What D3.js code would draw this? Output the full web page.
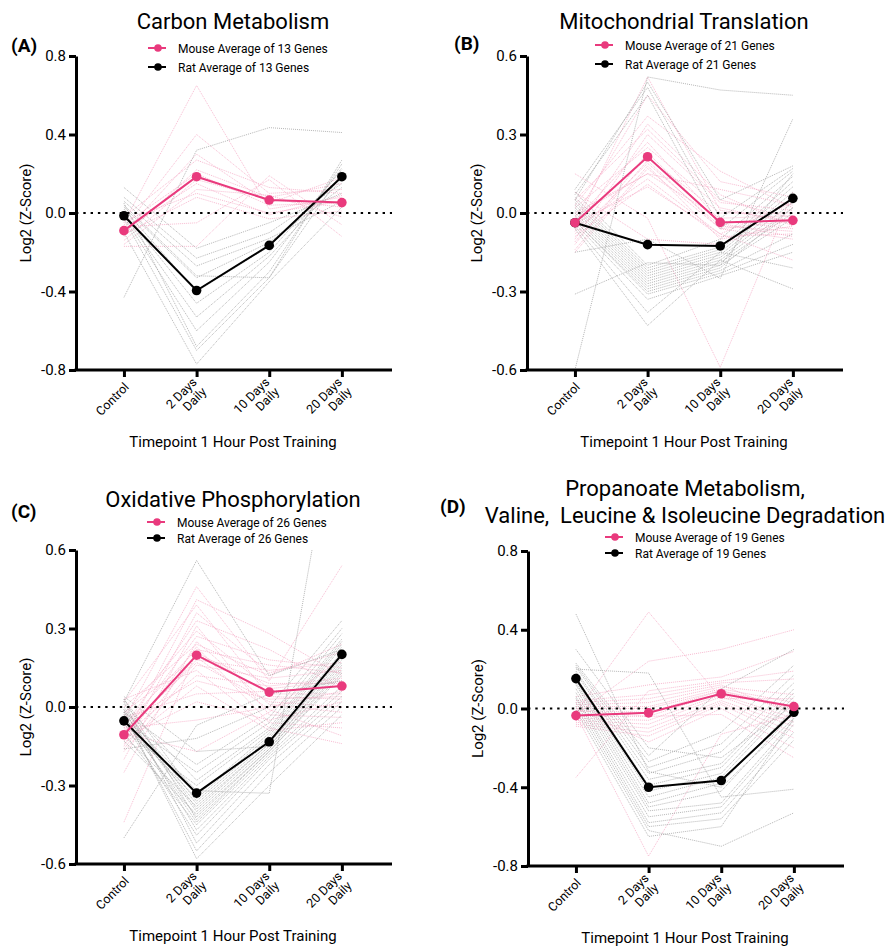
<!DOCTYPE html>
<html>
<head>
<meta charset="utf-8">
<script src="https://cdn.jsdelivr.net/npm/d3@7"></script>
<style>
  body { margin: 0; background: #fff; }
  svg { font-family: Roboto, "Noto Sans", sans-serif; }
  text { white-space: pre; }
</style>
</head>
<body>
<svg id="chart" width="896" height="948"></svg>
<script>
// x categories (multi-line labels)
const timepoints = [["Control"], ["2 Days", "Daily"], ["10 Days", "Daily"], ["20 Days", "Daily"]];

// ---- (A) Carbon Metabolism
const titleA = ["Carbon Metabolism"];
const ticksA = [-0.8, -0.4, 0, 0.4, 0.8];
const mouseAvgA = [-0.09, 0.185, 0.066, 0.053];
const ratAvgA = [-0.014, -0.395, -0.165, 0.185];
const mouseGenesA = [
  [-0.05, 0.65, 0.02, 0.08], [-0.08, 0.40, 0.10, 0.12], [-0.10, 0.30, 0.05, 0.18],
  [-0.02, 0.27, 0.13, 0.10], [-0.12, 0.22, 0.08, 0.15], [-0.06, 0.20, 0.04, 0.05],
  [-0.14, 0.17, 0.07, 0.03], [-0.09, 0.15, -0.01, 0.09], [-0.16, 0.12, 0.09, -0.02],
  [-0.04, 0.10, 0.00, 0.06], [-0.11, 0.08, -0.03, 0.01], [-0.17, -0.17, 0.19, -0.06],
  [-0.07, -0.05, 0.17, -0.12]
];
const ratGenesA = [
  [-0.43, 0.32, 0.435, 0.41], [0.13, -0.18, -0.05, 0.10], [0.08, -0.23, -0.10, 0.15],
  [0.06, -0.27, -0.13, 0.06], [0.04, -0.32, -0.33, 0.20], [0.03, -0.33, -0.15, 0.13],
  [0.02, -0.40, -0.17, 0.19], [0.00, -0.46, -0.20, 0.22], [-0.01, -0.53, -0.22, 0.17],
  [-0.02, -0.60, -0.25, 0.23], [0.05, -0.68, -0.30, 0.25], [-0.03, -0.70, -0.33, 0.27],
  [-0.10, -0.77, -0.35, 0.03]
];

// ---- (B) Mitochondrial Translation
const titleB = ["Mitochondrial Translation"];
const ticksB = [-0.6, -0.3, 0, 0.3, 0.6];
const mouseAvgB = [-0.037, 0.215, -0.036, -0.028];
const ratAvgB = [-0.037, -0.121, -0.126, 0.056];
const mouseGenesB = [
  [-0.05, 0.52, 0.01, -0.03], [-0.02, 0.45, 0.12, 0.06], [0.03, 0.37, 0.16, 0.02],
  [-0.07, 0.34, 0.07, -0.05], [0.05, 0.32, 0.05, -0.02], [-0.10, 0.30, 0.04, 0.01],
  [-0.03, 0.27, -0.03, -0.06], [0.02, 0.25, 0.02, -0.04], [-0.12, 0.23, -0.04, -0.09],
  [-0.04, 0.21, 0.00, 0.00], [-0.08, 0.19, -0.05, -0.07], [-0.15, 0.17, -0.06, -0.10],
  [0.00, 0.15, -0.02, -0.01], [-0.06, 0.13, -0.08, -0.18], [-0.09, 0.11, -0.09, -0.08],
  [-0.11, 0.20, -0.06, -0.03], [-0.14, 0.18, -0.10, -0.05], [-0.01, 0.15, 0.09, 0.03],
  [-0.04, 0.10, -0.08, 0.04], [0.15, -0.02, -0.59, 0.08], [0.08, -0.10, -0.12, -0.02]
];
const ratGenesB = [
  [-0.60, 0.52, 0.47, 0.45], [0.05, 0.50, 0.05, 0.18], [0.09, 0.48, -0.02, 0.17],
  [0.07, 0.45, -0.06, 0.16], [-0.15, -0.10, -0.25, 0.36], [-0.31, -0.19, -0.20, 0.15],
  [0.08, -0.20, -0.10, 0.14], [0.06, -0.21, -0.13, 0.12], [0.05, -0.22, -0.14, 0.10],
  [0.04, -0.23, -0.15, 0.08], [0.03, -0.24, -0.16, 0.06], [0.02, -0.25, -0.17, 0.04],
  [0.01, -0.26, -0.18, 0.02], [0.00, -0.27, -0.19, 0.00], [-0.01, -0.28, -0.20, -0.02],
  [-0.02, -0.29, -0.21, 0.02], [-0.03, -0.30, -0.22, -0.08], [-0.03, -0.31, -0.23, -0.12],
  [-0.04, -0.33, -0.24, -0.15], [-0.05, -0.38, -0.15, -0.21], [-0.06, -0.43, -0.18, -0.29]
];

// ---- (C) Oxidative Phosphorylation
const titleC = ["Oxidative Phosphorylation"];
const ticksC = [-0.6, -0.3, 0, 0.3, 0.6];
const mouseAvgC = [-0.106, 0.198, 0.057, 0.080];
const ratAvgC = [-0.053, -0.329, -0.133, 0.201];
const mouseGenesC = [
  [-0.05, 0.46, 0.10, 0.54], [-0.12, 0.41, 0.28, 0.12], [0.02, 0.39, 0.04, 0.03],
  [-0.15, 0.36, 0.13, 0.21], [-0.08, 0.33, 0.22, 0.07], [-0.20, 0.31, -0.03, -0.04],
  [-0.03, 0.29, 0.07, 0.10], [-0.10, 0.27, 0.18, 0.15], [-0.25, 0.25, 0.01, -0.02],
  [0.00, 0.24, 0.12, 0.24], [-0.13, 0.23, -0.06, -0.08], [-0.07, 0.22, 0.16, 0.13],
  [-0.44, 0.21, 0.05, 0.05], [-0.16, 0.20, 0.09, 0.09], [-0.02, 0.19, -0.01, -0.11],
  [-0.10, 0.18, 0.14, 0.17], [-0.09, 0.17, 0.02, 0.00], [-0.17, 0.16, 0.11, 0.14],
  [0.03, 0.14, -0.08, -0.14], [-0.11, 0.12, 0.08, 0.11], [-0.06, 0.10, 0.03, 0.04],
  [-0.14, 0.08, -0.09, -0.06], [-0.04, 0.05, 0.06, 0.08], [-0.12, 0.02, -0.05, 0.02],
  [-0.08, -0.05, 0.00, 0.06], [-0.10, -0.17, -0.02, 0.19]
];
const ratGenesC = [
  [0.02, 0.56, 0.12, 0.22], [-0.50, -0.07, 0.05, 0.10], [-0.16, -0.12, 0.00, 0.33],
  [0.04, -0.17, -0.15, 0.16], [-0.02, -0.22, -0.04, 0.30], [-0.05, -0.25, -0.06, 0.28],
  [0.01, -0.28, -0.08, 0.26], [-0.09, -0.30, -0.09, 0.25], [-0.03, -0.32, -0.33, 1.25],
  [0.03, -0.34, -0.10, 0.24], [-0.06, -0.35, -0.11, 0.23], [-0.01, -0.36, -0.12, 0.21],
  [-0.04, -0.37, -0.13, 0.20], [-0.11, -0.38, -0.14, 0.19], [0.00, -0.39, -0.14, 0.18],
  [-0.02, -0.40, -0.15, 0.17], [-0.13, -0.41, -0.16, 0.15], [-0.05, -0.42, -0.16, 0.14],
  [0.03, -0.43, -0.17, 0.13], [-0.04, -0.44, -0.17, 0.12], [-0.10, -0.45, -0.18, 0.08],
  [-0.01, -0.47, -0.19, 0.06], [-0.06, -0.49, -0.20, 0.04], [0.02, -0.52, -0.22, 0.02],
  [-0.03, -0.55, -0.25, 0.00], [-0.02, -0.58, -0.30, -0.03]
];

// ---- (D) Propanoate / BCAA degradation
const titleD = ["Propanoate Metabolism,", "Valine,  Leucine & Isoleucine Degradation"];
const ticksD = [-0.8, -0.4, 0, 0.4, 0.8];
const mouseAvgD = [-0.036, -0.022, 0.075, 0.010];
const ratAvgD = [0.152, -0.400, -0.366, -0.019];
const mouseGenesD = [
  [-0.02, 0.49, 0.05, 0.05], [-0.03, 0.24, 0.30, 0.40], [0.06, 0.12, 0.16, 0.29],
  [-0.35, 0.09, 0.14, 0.19], [0.04, 0.07, 0.13, 0.15], [0.03, 0.05, 0.12, -0.03],
  [0.02, 0.03, 0.11, 0.07], [0.01, 0.01, 0.10, 0.03], [0.00, 0.00, 0.09, 0.01],
  [-0.01, -0.02, 0.09, -0.01], [-0.04, -0.04, 0.08, 0.00], [-0.05, -0.06, 0.07, -0.05],
  [-0.06, -0.08, 0.06, -0.07], [-0.07, -0.10, 0.04, -0.09], [-0.08, -0.12, 0.03, -0.12],
  [-0.09, -0.14, 0.02, -0.15], [0.00, -0.17, 0.00, -0.20], [-0.01, -0.04, -0.03, -0.25],
  [-0.03, -0.75, -0.13, -0.03]
];
const ratGenesD = [
  [0.48, -0.32, -0.40, -0.05], [0.30, -0.20, -0.25, 0.02], [0.20, 0.18, -0.45, -0.41],
  [0.23, -0.24, 0.10, 0.30], [0.22, -0.27, -0.12, 0.22], [0.21, -0.30, -0.18, 0.17],
  [0.19, -0.33, -0.22, 0.13], [0.18, -0.36, -0.28, 0.10], [0.16, -0.39, -0.30, 0.08],
  [0.14, -0.42, -0.33, 0.06], [0.13, -0.45, -0.35, 0.04], [0.12, -0.48, -0.38, 0.00],
  [0.10, -0.50, -0.42, -0.02], [0.08, -0.52, -0.48, -0.06], [0.06, -0.55, -0.50, -0.08],
  [0.05, -0.58, -0.53, -0.12], [0.03, -0.60, -0.56, -0.16], [0.01, -0.62, -0.70, -0.53],
  [-0.01, -0.65, -0.60, -0.05]
];

const geneCounts = [13, 21, 26, 19];

const pink = "#e93a7d", pinkLight = "#f5a9c5", grayLight = "#a3a3a3";
const fmt = d3.formatLocale({decimal: ".", thousands: ",", grouping: [3], currency: ["", ""], minus: "-"}).format(".1f");

const panels = [
  {letter: "(A)", title: titleA, ticks: ticksA, mAvg: mouseAvgA, rAvg: ratAvgA, mGenes: mouseGenesA, rGenes: ratGenesA, n: geneCounts[0],
   left: 76, top: 56, bottom: 370, titleY: [29], letterX: 11, letterY: 52, legX: 148, legY: [48, 67]},
  {letter: "(B)", title: titleB, ticks: ticksB, mAvg: mouseAvgB, rAvg: ratAvgB, mGenes: mouseGenesB, rGenes: ratGenesB, n: geneCounts[1],
   left: 527, top: 56, bottom: 370, titleY: [29], letterX: 454, letterY: 50, legX: 595, legY: [45, 64]},
  {letter: "(C)", title: titleC, ticks: ticksC, mAvg: mouseAvgC, rAvg: ratAvgC, mGenes: mouseGenesC, rGenes: ratGenesC, n: geneCounts[2],
   left: 76, top: 550, bottom: 864, titleY: [507], letterX: 11, letterY: 518, legX: 147, legY: [522, 538]},
  {letter: "(D)", title: titleD, ticks: ticksD, mAvg: mouseAvgD, rAvg: ratAvgD, mGenes: mouseGenesD, rGenes: ratGenesD, n: geneCounts[3],
   left: 528, top: 551, bottom: 866, titleY: [496, 523], letterX: 440, letterY: 513, legX: 605, legY: [537, 553]}
];

const svg = d3.select("#chart");
const axisW = 316;

panels.forEach((p, pi) => {
  const g = svg.append("g");
  const ymax = p.ticks[p.ticks.length - 1];

  const x = d3.scaleLinear().domain([-0.66, 3.69]).range([p.left, p.left + axisW]);
  const y = d3.scaleLinear().domain([-ymax, ymax]).range([p.bottom, p.top]);

  const clipId = "clip" + pi;
  g.append("clipPath").attr("id", clipId)
    .append("rect").attr("x", p.left).attr("y", p.top)
    .attr("width", axisW).attr("height", p.bottom - p.top);

  const line = d3.line().x((d, i) => x(i)).y(d => y(d));

  // individual gene traces
  const traces = g.append("g").attr("clip-path", `url(#${clipId})`);
  traces.selectAll("path.m").data(p.mGenes).join("path")
    .attr("class", "m").attr("d", line)
    .attr("fill", "none").attr("stroke", pinkLight)
    .attr("stroke-width", 0.8).attr("stroke-dasharray", "1 1");
  traces.selectAll("path.r").data(p.rGenes).join("path")
    .attr("class", "r").attr("d", line)
    .attr("fill", "none").attr("stroke", grayLight)
    .attr("stroke-width", 0.8).attr("stroke-dasharray", "1 1");

  // zero reference line
  g.append("line")
    .attr("x1", p.left).attr("x2", p.left + axisW)
    .attr("y1", y(0)).attr("y2", y(0))
    .attr("stroke", "#000").attr("stroke-width", 2)
    .attr("stroke-dasharray", "2.4 4.9");

  // averages
  [[p.rAvg, "#000"], [p.mAvg, pink]].forEach(([vals, col]) => {
    g.append("path").datum(vals).attr("d", line)
      .attr("fill", "none").attr("stroke", col).attr("stroke-width", 2);
    g.selectAll(null).data(vals).join("circle")
      .attr("cx", (d, i) => x(i)).attr("cy", d => y(d))
      .attr("r", 4.8).attr("fill", col);
  });

  // y axis
  const ya = g.append("g").attr("transform", `translate(${p.left},0)`)
    .call(d3.axisLeft(y).tickValues(p.ticks).tickFormat(fmt).tickSize(7).tickSizeOuter(0).tickPadding(3));
  ya.select(".domain").attr("stroke-width", 3);
  ya.selectAll(".tick line").attr("stroke-width", 3);
  ya.selectAll(".tick text").attr("font-size", 15).attr("font-family", "Roboto").attr("fill", "#000");

  // x axis
  const xa = g.append("g").attr("transform", `translate(0,${p.bottom})`)
    .call(d3.axisBottom(x).tickValues([0, 1, 2, 3]).tickSize(7).tickSizeOuter(0).tickFormat(""));
  xa.select(".domain").attr("stroke-width", 3)
    .attr("d", `M${p.left - 1.5},0H${p.left + axisW}`);
  xa.selectAll(".tick line").attr("stroke-width", 3);

  timepoints.forEach((lab, i) => {
    const t = g.append("text")
      .attr("transform", `translate(${x(i) + 3},${p.bottom + 15}) rotate(-45)`)
      .attr("text-anchor", "end").attr("font-size", 12.5);
    lab.forEach((s, k) => {
      t.append("tspan").attr("x", 0)
        .attr("y", (k - (lab.length - 1) / 2) * 13.5 + 4)
        .text(s);
    });
  });

  // axis titles
  g.append("text")
    .attr("transform", `translate(${p.left - 45},${(p.top + p.bottom) / 2}) rotate(-90)`)
    .attr("text-anchor", "middle").attr("font-size", 15)
    .text("Log2 (Z-Score)");
  g.append("text")
    .attr("x", p.left + 157).attr("y", p.bottom + 77)
    .attr("text-anchor", "middle").attr("font-size", 15)
    .text("Timepoint 1 Hour Post Training");

  // chart title + panel letter
  p.title.forEach((s, k) => {
    g.append("text").attr("x", p.left + 157).attr("y", p.titleY[k])
      .attr("text-anchor", "middle").attr("font-size", 22).text(s);
  });
  g.append("text").attr("x", p.letterX).attr("y", p.letterY)
    .attr("font-size", 19).attr("font-weight", "bold").text(p.letter);

  // legend
  [["Mouse", pink], ["Rat", "#000"]].forEach(([sp, col], k) => {
    const ly = p.legY[k];
    g.append("line").attr("x1", p.legX).attr("x2", p.legX + 18)
      .attr("y1", ly).attr("y2", ly).attr("stroke", col).attr("stroke-width", 2);
    g.append("circle").attr("cx", p.legX + 10).attr("cy", ly).attr("r", 3.8).attr("fill", col);
    g.append("text").attr("x", p.legX + 30).attr("y", ly + 4.5)
      .attr("font-size", 12).text(`${sp} Average of ${p.n} Genes`);
  });
});
</script>
</body>
</html>
